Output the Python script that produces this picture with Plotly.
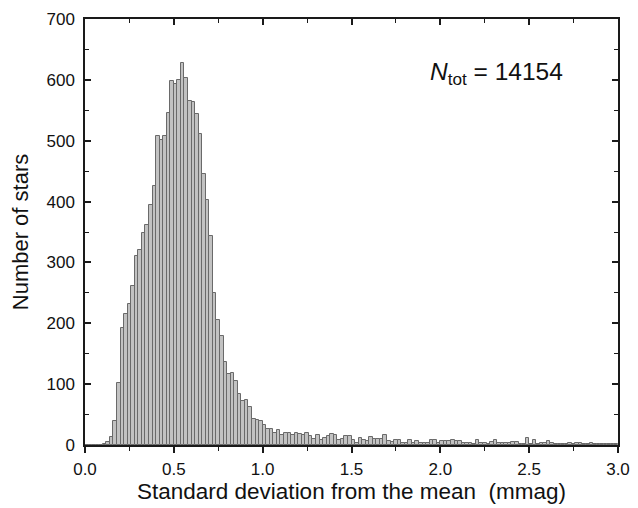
import numpy as np
import plotly.graph_objects as go

bin_start = 0.0
bin_width = 0.02
counts = [
    0, 0, 0, 0, 0, 2, 5, 13, 39, 102,
    193, 216, 231, 262, 310, 320, 348, 361, 395, 425,
    508, 502, 507, 545, 598, 593, 599, 628, 603, 566,
    563, 544, 511, 445, 403, 343, 250, 206, 179, 136,
    117, 119, 105, 83, 72, 74, 62, 42, 41, 40,
    33, 26, 27, 19, 25, 16, 19, 19, 17, 19,
    18, 17, 19, 14, 10, 17, 9, 12, 14, 18,
    16, 9, 10, 14, 14, 8, 4, 11, 9, 7,
    13, 10, 10, 10, 17, 6, 5, 8, 8, 4,
    4, 8, 4, 7, 3, 3, 3, 9, 9, 3,
    7, 6, 6, 9, 7, 7, 4, 3, 3, 2,
    8, 4, 3, 2, 5, 8, 4, 4, 4, 4,
    5, 5, 2, 1, 11, 1, 8, 1, 3, 3,
    7, 3, 1, 1, 1, 1, 4, 2, 3, 3,
    1, 2, 3, 2, 1, 1, 2, 1, 1, 2,
]
x_ticks = [0.0, 0.5, 1.0, 1.5, 2.0, 2.5, 3.0]
x_ticklabels = ["0.0", "0.5", "1.0", "1.5", "2.0", "2.5", "3.0"]
y_ticks = [0, 100, 200, 300, 400, 500, 600, 700]
x_title = "Standard deviation from the mean&nbsp;&nbsp;(mmag)"
y_title = "Number of stars"
annotation_text = "<i>N</i><sub>tot</sub> = 14154"

centers = bin_start + bin_width * (np.arange(len(counts)) + 0.5)

FONT = "Arial, Liberation Sans, sans-serif"
AX = "#1a1a1a"

fig = go.Figure()
fig.add_trace(go.Bar(
    x=centers, y=counts, width=bin_width,
    marker=dict(color="#c2c2c2", line=dict(color="#6a6a6a", width=1)),
    showlegend=False, hoverinfo="x+y",
))
# invisible trace to anchor the top axis
fig.add_trace(go.Scatter(x=[None], y=[None], xaxis="x2", showlegend=False, hoverinfo="skip"))

common_x = dict(
    range=[0, 3.0], showgrid=False, zeroline=False, automargin=False,
    showline=True, linecolor=AX, linewidth=1.5,
)
fig.update_layout(
    width=638, height=508,
    margin=dict(l=85, r=20, t=19, b=63, autoexpand=False),
    paper_bgcolor="white", plot_bgcolor="white",
    font=dict(family=FONT, color="#111", size=17),
    bargap=0,
    xaxis=dict(
        **common_x,
        tickmode="array", tickvals=x_ticks, ticktext=x_ticklabels,
        ticks="outside", ticklen=6, tickwidth=1.5, tickcolor=AX,
        minor=dict(dtick=0.25, tick0=0, ticks="outside", ticklen=4, tickwidth=1.2, tickcolor=AX),
        tickfont=dict(size=17), ticklabelstandoff=2,
        title=dict(text=x_title, font=dict(size=22.5), standoff=5),
    ),
    xaxis2=dict(
        **common_x, overlaying="x", side="top",
        tickmode="array", tickvals=x_ticks, showticklabels=False,
        ticks="inside", ticklen=6, tickwidth=1.5, tickcolor=AX,
        minor=dict(dtick=0.25, tick0=0, ticks="inside", ticklen=4, tickwidth=1.2, tickcolor=AX),
    ),
    yaxis=dict(
        range=[0, 700], showgrid=False, zeroline=False, automargin=False,
        showline=True, linecolor=AX, linewidth=1.5, mirror="ticks",
        tickmode="array", tickvals=y_ticks,
        ticks="inside", ticklen=6, tickwidth=1.5, tickcolor=AX,
        minor=dict(dtick=50, tick0=0, ticks="inside", ticklen=4, tickwidth=1.2, tickcolor=AX),
        tickfont=dict(size=17), ticklabelstandoff=5,
        title=dict(text=y_title, font=dict(size=22), standoff=12),
    ),
    annotations=[dict(
        text=annotation_text, x=0.772, y=0.871, xref="paper", yref="paper",
        showarrow=False, font=dict(size=24.5, family=FONT, color="#111"),
        xanchor="center", yanchor="middle",
    )],
)

fig.write_html("out.html", config={"displayModeBar": False},
               post_script="document.body.style.margin='0';")
